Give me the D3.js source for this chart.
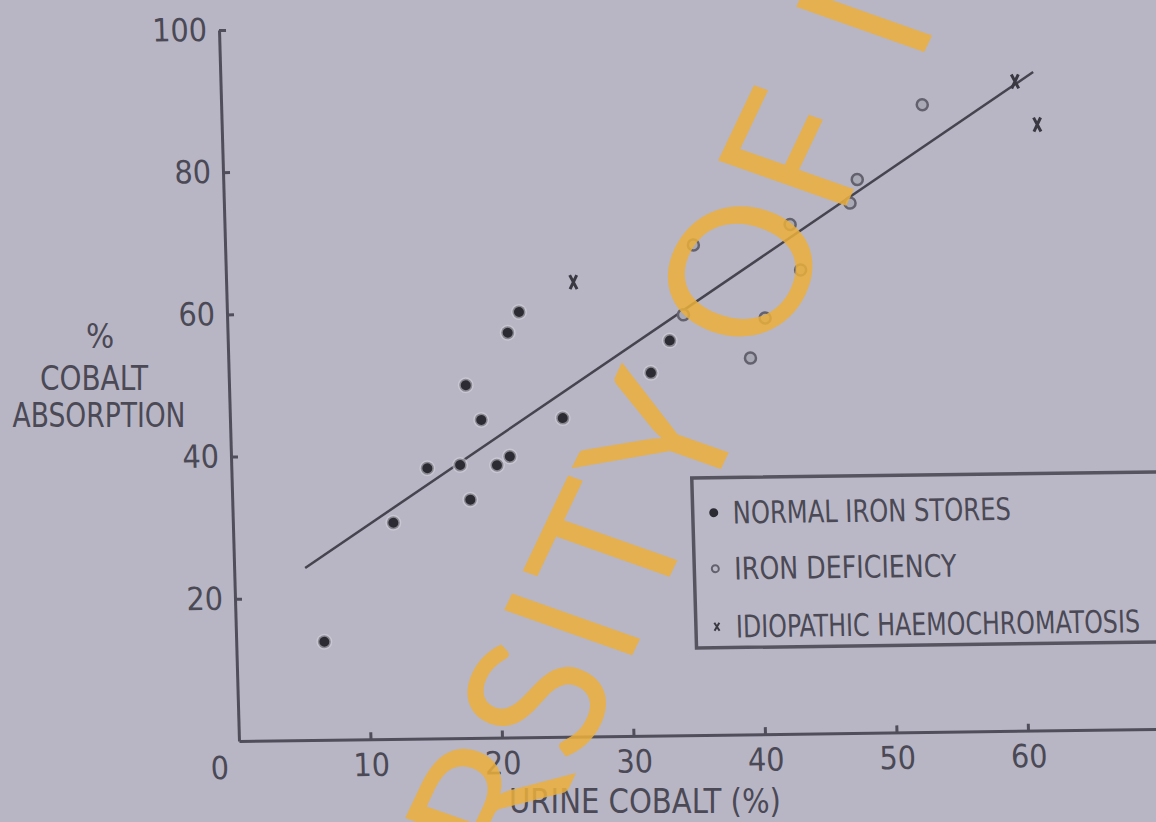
<!DOCTYPE html>
<html>
<head>
<meta charset="utf-8">
<title>Cobalt absorption vs urine cobalt</title>
<style>
    body { margin: 0; background: #b8b6c4; }
    svg { display: block; }
    .tick text { font-family: "Liberation Sans Narrow", "DejaVu Sans Condensed", sans-serif; font-size: 32px; fill: #4a4955; }
    .lbl { font-family: "Liberation Sans Narrow", "DejaVu Sans Condensed", sans-serif; fill: #4a4955; }
</style>
</head>
<body>
<div id="chart"></div>
<script src="https://cdnjs.cloudflare.com/ajax/libs/d3/7.8.5/d3.min.js"></script>
<script>
// values: urine cobalt (%) vs % cobalt absorption
const normalX = [6.7, 12.2, 14.9, 17.4, 18.1, 18.0, 19.1, 20.2, 21.2, 21.3, 22.2, 25.3, 32.1, 33.6]
const normalY = [13.8, 30.4, 38.0, 38.4, 33.5, 49.6, 44.7, 38.3, 39.5, 56.9, 59.8, 44.8, 51.0, 55.5]

const deficX = [34.7, 35.6, 39.7, 40.9, 43.0, 43.7, 47.6, 48.2, 53.3]
const deficY = [59.1, 68.9, 52.9, 58.5, 71.6, 65.2, 74.5, 77.8, 88.2]

const haemoX = [26.4, 60.4, 62.0]
const haemoY = [63.9, 91.3, 85.2]

// fitted line end points
const fitX = [5.4, 61.8]
const fitY = [24.2, 92.6]

const xTicks = [10, 20, 30, 40, 50, 60]
const yTicks = [20, 40, 60, 80, 100]
const legendLabels = ["NORMAL IRON STORES", "IRON DEFICIENCY", "IDIOPATHIC HAEMOCHROMATOSIS"]

const W = 1156, H = 822
const ink = "#4f4e5a"

const svg = d3.select("#chart").append("svg")
    .attr("width", W)
    .attr("height", H)

svg.append("rect").attr("width", W).attr("height", H).attr("fill", "#b8b6c4")

// the original is a photographed slide, slightly skewed -> matrix on the plot group
const g = svg.append("g")
    .attr("transform", "matrix(1,-0.01308,0.0281,1,219,30)")

const x = d3.scaleLinear().domain([0, 70]).range([0, 920.5])
const y = d3.scaleLinear().domain([0, 100]).range([711, 0])

// axes, ticks pointing inward
g.append("g")
    .attr("transform", `translate(0,${y(0)})`)
    .call(d3.axisBottom(x).tickValues(xTicks).tickSizeInner(-7).tickSizeOuter(0).tickPadding(14))
g.append("g")
    .call(d3.axisLeft(y).tickValues(yTicks).tickSizeInner(-7).tickSizeOuter(0).tickPadding(12))

g.selectAll(".domain, .tick line").attr("stroke", ink).attr("stroke-width", 3)

g.append("text")
    .attr("class", "lbl")
    .attr("x", x(0) - 20)
    .attr("y", y(0) + 38)
    .attr("text-anchor", "middle")
    .attr("font-size", 32)
    .text("0")

// fitted line
g.append("line")
    .attr("x1", x(fitX[0])).attr("y1", y(fitY[0]))
    .attr("x2", x(fitX[1])).attr("y2", y(fitY[1]))
    .attr("stroke", "#46454f")
    .attr("stroke-width", 2.5)

// normal iron stores
g.append("g").selectAll("circle")
    .data(normalX.map((d, i) => [d, normalY[i]]))
    .join("circle")
    .attr("cx", d => x(d[0]))
    .attr("cy", d => y(d[1]))
    .attr("r", 6.5)
    .attr("fill", "#2c2b33")
    .attr("stroke", "#d6d5de")
    .attr("stroke-opacity", 0.55)
    .attr("stroke-width", 3)

// iron deficiency
g.append("g").selectAll("circle")
    .data(deficX.map((d, i) => [d, deficY[i]]))
    .join("circle")
    .attr("cx", d => x(d[0]))
    .attr("cy", d => y(d[1]))
    .attr("r", 5.5)
    .attr("fill", "#a9a8b5")
    .attr("stroke", "#62616d")
    .attr("stroke-width", 2.5)

// idiopathic haemochromatosis
const cross = "M-3.5,-7L3.5,7M3.5,-7L-3.5,7"
g.append("g").selectAll("path")
    .data(haemoX.map((d, i) => [d, haemoY[i]]))
    .join("path")
    .attr("transform", d => `translate(${x(d[0])},${y(d[1])})`)
    .attr("d", cross)
    .attr("stroke", "#3a3942")
    .attr("stroke-width", 3)

// legend
const lg = g.append("g").attr("transform", "translate(460,454)")
lg.append("rect")
    .attr("width", 520).attr("height", 170)
    .attr("fill", "#bab8c6")
    .attr("stroke", "#55545f")
    .attr("stroke-width", 3.5)

const rowY = [46, 102, 160]
const rowW = [278, 222, 404]
lg.append("circle").attr("cx", 21).attr("cy", rowY[0] - 11).attr("r", 4.5).attr("fill", "#2c2b33")
lg.append("circle").attr("cx", 21).attr("cy", rowY[1] - 11).attr("r", 3.5)
    .attr("fill", "none").attr("stroke", "#62616d").attr("stroke-width", 2)
lg.append("path").attr("transform", `translate(21,${rowY[2] - 11})`)
    .attr("d", "M-2.5,-4L2.5,4M2.5,-4L-2.5,4").attr("stroke", "#3a3942").attr("stroke-width", 2)

lg.selectAll("text.row")
    .data(legendLabels)
    .join("text")
    .attr("class", "lbl row")
    .attr("x", 40)
    .attr("y", (d, i) => rowY[i])
    .attr("font-size", 31)
    .attr("textLength", (d, i) => rowW[i])
    .attr("lengthAdjust", "spacingAndGlyphs")
    .text(d => d)

// axis titles
svg.append("text").attr("class", "lbl")
    .attr("x", 645).attr("y", 813)
    .attr("text-anchor", "middle")
    .attr("font-size", 34)
    .attr("textLength", 272).attr("lengthAdjust", "spacingAndGlyphs")
    .text("URINE COBALT (%)")

const yTitle = [["%", 100, 348, null], ["COBALT", 94, 390, 108], ["ABSORPTION", 99, 427, 173]]
yTitle.forEach(t => {
    const el = svg.append("text").attr("class", "lbl")
        .attr("x", t[1]).attr("y", t[2])
        .attr("text-anchor", "middle")
        .attr("font-size", 33)
        .text(t[0])
    if (t[3]) el.attr("textLength", t[3]).attr("lengthAdjust", "spacingAndGlyphs")
})

// watermark over the slide: laid out flat, then fitted so that the "I" of SITY
// and the "F" stand where they are in the photo
const fs = 190, ls = 5
const wm = svg.append("text")
    .attr("font-family", "Lato, sans-serif")
    .attr("font-size", fs)
    .attr("letter-spacing", ls)
    .attr("fill", "rgb(235,175,60)")
    .attr("fill-opacity", 0.85)
wm.append("tspan").text("UNIVERSITY OF")
const lastI = wm.append("tspan").attr("dx", 30).text("I")

const node = wm.node()
const stem = i => { const e = node.getExtentOfChar(i); return e.x + e.width / 2 - ls / 2 }
const p1 = stem(7), p2 = node.getExtentOfChar(12).x + 0.125 * fs
const q1 = [636, 647], q2 = [849, 200], q3 = [928, 44]
const ang = Math.atan2(q2[1] - q1[1], q2[0] - q1[0])
const sc = Math.hypot(q2[0] - q1[0], q2[1] - q1[1]) / (p2 - p1)
const tx = q1[0] - sc * Math.cos(ang) * p1, ty = q1[1] - sc * Math.sin(ang) * p1
wm.attr("transform", `translate(${tx},${ty}) rotate(${ang * 180 / Math.PI}) scale(${sc}) skewX(6)`)

// last letter: move it onto its spot as well
const dX = q3[0] - tx, dY = q3[1] - ty
const lx = (Math.cos(ang) * dX + Math.sin(ang) * dY) / sc
const ly = (-Math.sin(ang) * dX + Math.cos(ang) * dY) / sc
lastI.attr("dx", 30 + lx - stem(13)).attr("dy", ly)
</script>
</body>
</html>
